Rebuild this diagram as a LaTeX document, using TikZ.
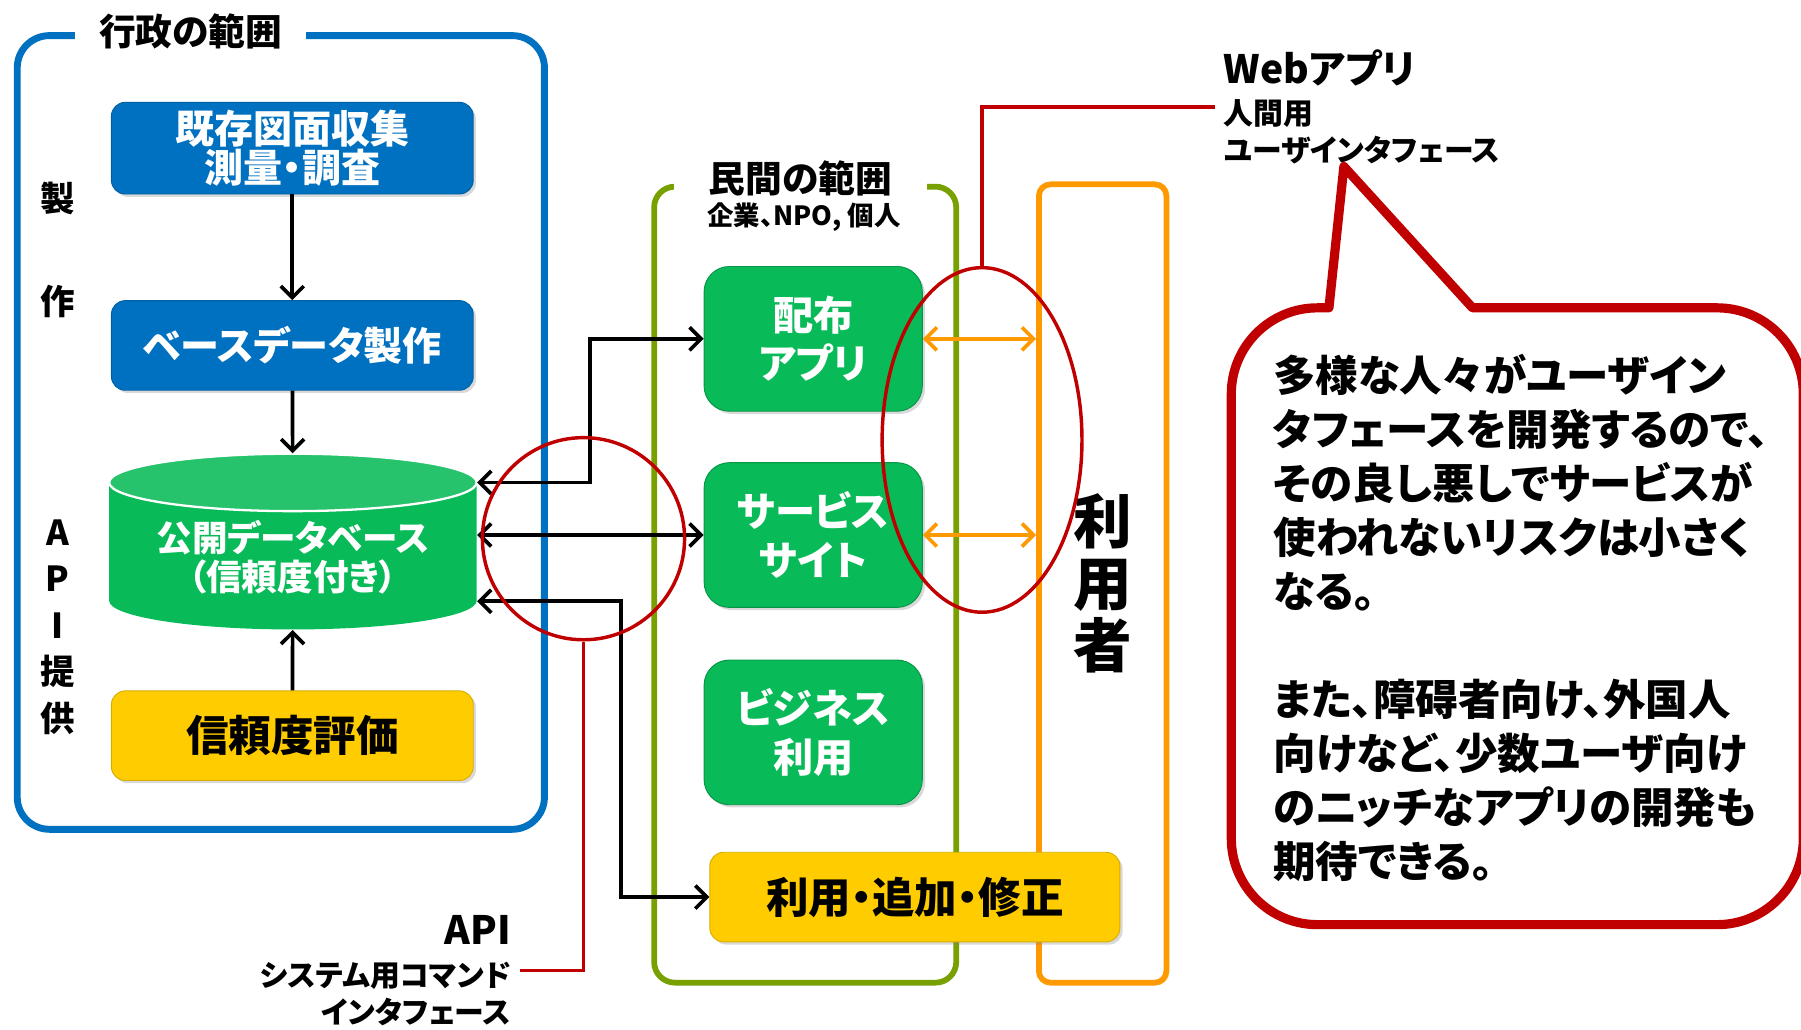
\documentclass[tikz,border=0pt]{standalone}
\usepackage{fontspec}
\setmainfont{Noto Sans CJK JP}[RawFeature=+palt]
\usetikzlibrary{positioning,shapes.geometric,shadows,arrows.meta}

\definecolor{govblue}{RGB}{0,112,192}
\definecolor{appgreen}{RGB}{8,186,88}
\definecolor{evalyellow}{RGB}{255,204,0}
\definecolor{privolive}{RGB}{119,160,0}
\definecolor{useorange}{RGB}{255,153,0}
\definecolor{ringred}{RGB}{192,0,0}

\begin{document}
\begin{tikzpicture}[x=0.5pt, y=-0.5pt,
    >={Straight Barb[length=5pt,width=10pt]},
    boxshadow/.style={drop shadow={shadow xshift=1.2pt, shadow yshift=-1.2pt, opacity=0.3}},
    govbox/.style={rectangle, rounded corners=6pt, boxshadow, fill=govblue, draw=govblue!85!black, text=white, align=center, minimum width=157.5pt, minimum height=39pt, font=\fontsize{17}{17}\selectfont\bfseries},
    appbox/.style={rectangle, rounded corners=11pt, boxshadow, fill=appgreen, draw=appgreen!80!black, text=white, align=center, minimum width=95pt, minimum height=63pt, font=\fontsize{17.5}{21}\selectfont\bfseries},
    yellowbox/.style={rectangle, rounded corners=6pt, boxshadow, fill=evalyellow, draw=evalyellow!85!black, align=center, minimum height=39pt, font=\fontsize{18.5}{18.5}\selectfont\bfseries},
    frametitle/.style={fill=white, inner ysep=2pt, font=\fontsize{16}{16}\selectfont\bfseries},
    flow/.style={->, line width=1.6pt},
    link/.style={<->, line width=1.6pt},
    uselink/.style={<->, line width=1.6pt, draw=useorange},
    ring/.style={draw=ringred, line width=1.5pt, inner sep=0pt},
    redline/.style={draw=ringred, line width=1.5pt},
    note/.style={font=\fontsize{13}{16}\selectfont\bfseries}
  ]
  \useasboundingbox (0,0) rectangle (1568,896);
  \clip (0,0) rectangle (1568,896);

  % government side
  \draw[govblue, line width=3pt, rounded corners=14pt] (15,31) rectangle (474,722);
  \node[frametitle, inner xsep=10.5pt] (govtitle) at (166,27) {行政の範囲};
  \node[font=\fontsize{15}{44.5}\selectfont\bfseries, align=center] (makeside) at (50,217.5) {製\\作};
  \node[font=\fontsize{15}{20.25}\selectfont\bfseries, align=center] (apiside) at (50,546) {A\\P\\I\\提\\供};

  \node[govbox] (survey) at (254.5,129) {既存図面収集\\測量・調査};
  \node[govbox, below=46pt of survey] (basedata) {ベースデータ製作};

  % database cylinder
  \fill[appgreen] (95,420) -- (95,523) arc[start angle=180, end angle=360, x radius=80pt, y radius=12.5pt] -- (415,420) -- cycle;
  \filldraw[fill=appgreen!88!white, draw=white, line width=1pt] (255,420) ellipse [x radius=80pt, y radius=12.5pt];
  \node[minimum width=160pt, minimum height=76.5pt, inner sep=0pt] (db) at (255,471.5) {};
  \node[text=white, align=center, font=\fontsize{15.5}{17}\selectfont\bfseries] (dbtitle) at (255,485) {公開データベース\\（信頼度付き）};

  \node[yellowbox, minimum width=157.5pt] (reliability) at (254.5,640.5) {信頼度評価};

  \draw[flow] (survey) -- (basedata);
  \draw[flow] (basedata) -- (db);
  \draw[flow] (reliability) -- (db);

  % private side and users
  \draw[privolive, line width=2.5pt, rounded corners=9pt] (569.5,162.5) rectangle (832.5,855.5);
  \node[frametitle, inner xsep=15pt] (privtitle) at (697,155) {民間の範囲};
  \node[font=\fontsize{11.5}{11.5}\selectfont\bfseries] (privsub) at (700,189) {企業、NPO, 個人};
  \node[draw=useorange, line width=2.5pt, rounded corners=5pt, minimum width=55.5pt, minimum height=347.5pt, align=center, font=\fontsize{25.5}{27}\selectfont\bfseries] (user) at (960,508) {利\\用\\者};

  \node[appbox] (distapp) at (708,295) {配布\\アプリ};
  \node[appbox, below=22pt of distapp] (site) {サービス\\サイト};
  \node[appbox, below=22.5pt of site] (business) {ビジネス\\利用};
  \node[yellowbox, minimum width=178.5pt] (edit) at (796.5,781) {利用・追加・修正};

  \draw[link] ([yshift=25.75pt]db.east) -- ++(49pt,0) |- (distapp.west);
  \draw[link] (db.east |- site.west) -- (site.west);
  \draw[link] ([yshift=-26pt]db.east) -- ++(62.5pt,0) |- (edit.west);

  % interfaces
  \node[ring, circle, minimum size=88pt] (apiring) at (508,469) {};
  \node[ring, ellipse, minimum width=87pt, minimum height=150pt] (webring) at (855,383) {};
  \node[note, anchor=east, align=right, inner sep=4pt] (apinote) at (453,845) {{\fontsize{17}{17}\selectfont API}\\[2pt]システム用コマンド\\インタフェース};
  \node[note, anchor=west, align=left, inner sep=3.5pt] (webnote) at (1058,93) {{\fontsize{17}{17}\selectfont Webアプリ}\\[2pt]人間用\\ユーザインタフェース};
  \draw[redline] (apiring.south) |- (apinote.east);
  \draw[redline] (webring.north) |- (webnote.west);

  \draw[uselink] (distapp.east) -- (distapp.east -| user.west);
  \draw[uselink] (site.east) -- (site.east -| user.west);

  % speech bubble
  \draw[ringred, line width=4pt, line join=round] (1157,268) -- (1170,145) -- (1282,268) -- (1495,268)
    arc[start angle=90, end angle=0, radius=37.5pt] -- (1570,730)
    arc[start angle=0, end angle=-90, radius=37.5pt] -- (1147,805)
    arc[start angle=270, end angle=180, radius=37.5pt] -- (1072,343)
    arc[start angle=180, end angle=90, radius=37.5pt] -- cycle;
  \node[anchor=north west, align=left, inner sep=0pt, font=\fontsize{18.5}{23.5}\selectfont\bfseries] (idea) at (1108,308)
    {多様な人々がユーザイン\\タフェースを開発するので、\\その良し悪しでサービスが\\使われないリスクは小さく\\なる。\\[23.5pt]また、障碍者向け、外国人\\向けなど、少数ユーザ向け\\のニッチなアプリの開発も\\期待できる。};
\end{tikzpicture}
\end{document}
